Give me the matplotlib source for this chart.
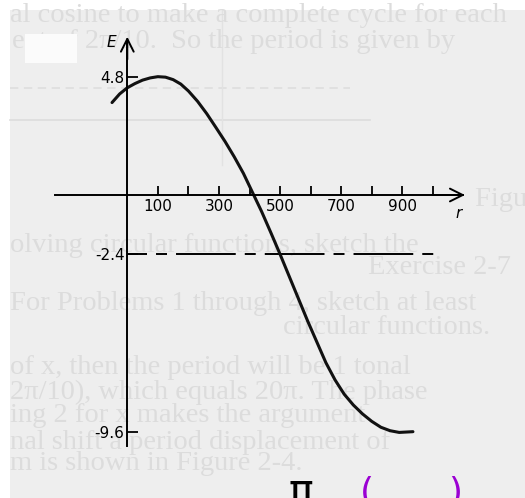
import matplotlib
matplotlib.use('Agg')
import matplotlib.pyplot as plt
from matplotlib.patches import Rectangle
from matplotlib.lines import Line2D

# points (r, E)
r_vals = [-50, -25, 0, 25, 50, 75, 100, 125, 150, 175, 200, 230, 260, 290,
          320, 350, 380, 410, 440, 470, 500, 530, 560, 590, 620, 650, 680,
          710, 740, 770, 800, 830, 860, 890, 935]
e_vals = [3.75, 4.1, 4.35, 4.52, 4.66, 4.75, 4.8, 4.78, 4.68, 4.5, 4.22, 3.8,
          3.3, 2.74, 2.17, 1.55, 0.88, 0.1, -0.68, -1.53, -2.4, -3.3, -4.2,
          -5.1, -5.95, -6.8, -7.5, -8.08, -8.52, -8.88, -9.18, -9.42, -9.56,
          -9.63, -9.6]

r_ticks = [100, 200, 300, 400, 500, 600, 700, 800, 900, 1000]
r_labels = ['100', '', '300', '', '500', '', '700', '', '900', '']
e_ticks = [4.8, -2.4, -9.6]
e_labels = ['4.8', '-2.4', '-9.6']
e_mid = -2.4

# faint print showing through from the other side of the page: (x px, y px, text)
ghost_lines = [
    (10, 15, 'al cosine to make a complete cycle for each'),
    (12, 42, 'ent of 2π/10.  So the period is given by'),
    (475, 199, 'Figure 2'),
    (10, 245, 'olving circular functions, sketch the'),
    (368, 267, 'Exercise 2-7'),
    (10, 303, 'For Problems 1 through 4, sketch at least'),
    (283, 328, 'circular functions.'),
    (10, 368, 'of x, then the period will be 1 tonal'),
    (10, 392, '2π/10), which equals 20π. The phase'),
    (10, 415, 'ing 2 for x makes the argument'),
    (10, 442, 'nal shift a period displacement of'),
    (10, 463, 'm is shown in Figure 2-4.'),
]

W, H = 525, 498
plt.rcParams['font.family'] = 'DejaVu Sans'
plt.rcParams['lines.scale_dashes'] = False

fig = plt.figure(figsize=(W / 100, H / 100), dpi=100)
fig.patch.set_facecolor('white')

# scanned page area and the pasted-over label box
fig.add_artist(Rectangle((10 / W, 0), 1, 1 - 10 / H, transform=fig.transFigure,
                         facecolor='#eeeeee', edgecolor='none', zorder=-3))
fig.add_artist(Rectangle((25 / W, 1 - 63 / H), 52 / W, 29 / H, transform=fig.transFigure,
                         facecolor='#fbfbfb', edgecolor='none', zorder=-1))

for gx, gy, gtxt in ghost_lines:
    fig.text(gx / W, 1 - gy / H, gtxt, color='#dcdcdc', fontsize=20.5,
             family='Liberation Serif', va='center', zorder=-2)
# faint axis of the figure on the reverse side
fig.add_artist(Line2D([10 / W, 370 / W], [1 - 120 / H] * 2, color='#dcdcdc', lw=1.2, zorder=-2))
fig.add_artist(Line2D([10 / W, 350 / W], [1 - 88 / H] * 2, color='#dedede', lw=1.2,
                      ls=(0, (6, 4)), zorder=-2))
fig.add_artist(Line2D([222 / W, 222 / W], [1 - 10 / H, 1 - 165 / H], color='#e2e2e2', lw=1, zorder=-2))

ax = fig.add_axes([0, 0, 1, 1])
ax.set_facecolor('none')
ax.set_xlim(-416.7, 1301.8)
ax.set_ylim(-12.29, 7.91)

for side in ['top', 'right']:
    ax.spines[side].set_visible(False)
ax.spines['left'].set_position(('data', 0))
ax.spines['bottom'].set_position(('data', 0))
ax.spines['left'].set_bounds(-10.2, 6.3)
ax.spines['bottom'].set_bounds(-237, 1100)
ax.spines['left'].set_linewidth(1.4)
ax.spines['bottom'].set_linewidth(1.4)

ax.set_xticks(r_ticks, r_labels)
ax.set_yticks(e_ticks, e_labels)
ax.tick_params(axis='x', direction='in', length=6.5, width=1.3, pad=3, labelsize=11)
ax.tick_params(axis='y', direction='in', length=8, width=1.3, pad=2, labelsize=11)

# open arrow heads on both axes
arrow = dict(arrowstyle='->', lw=1.4, mutation_scale=23, color='black', shrinkA=0, shrinkB=0)
ax.annotate('', xy=(1105, 0), xytext=(1000, 0), arrowprops=arrow)
ax.annotate('', xy=(0, 6.42), xytext=(0, 5.5), arrowprops=arrow)

ax.text(-35, 6.2, 'E', fontsize=11, fontstyle='italic', ha='right', va='center')
ax.text(1085, -0.75, 'r', fontsize=11, fontstyle='italic', ha='center', va='center')

# midline
ax.hlines(e_mid, 0, 1007, color='black', lw=1.4, linestyle=(28.6, (43, 6.5, 7.9, 6.5)))

ax.plot(r_vals, e_vals, color='#111111', lw=2.2,
        solid_joinstyle='round', solid_capstyle='round')

# handwritten notes along the bottom edge
fig.text(288 / W, 1 - 470 / H, 'π', fontsize=30, color='black', va='top', zorder=5)
fig.text(360 / W, 1 - 476 / H, '(', fontsize=26, color='#9b00d3', va='top', zorder=5)
fig.text(448 / W, 1 - 476 / H, ')', fontsize=26, color='#9b00d3', va='top', zorder=5)

fig.savefig('out.png', dpi=100)
